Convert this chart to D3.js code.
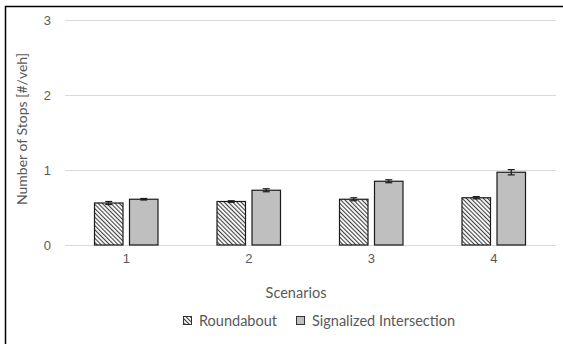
<!DOCTYPE html>
<html>
<head>
<meta charset="utf-8">
<script src="https://cdn.jsdelivr.net/npm/d3@7"></script>
<style>
  html, body { margin: 0; padding: 0; background: #fff; }
  svg { display: block; font-family: Lato, "Open Sans", sans-serif; }
</style>
</head>
<body>
<svg id="chart" width="563" height="344"></svg>
<script>
// Scenario categories and series (mean stops per vehicle with error half-widths)
const scenarios = ["1", "2", "3", "4"];
const seriesNames = ["Roundabout", "Signalized Intersection"];
const roundabout = [0.56, 0.58, 0.61, 0.63];
const roundaboutErr = [0.02, 0.01, 0.02, 0.015];
const signalized = [0.61, 0.73, 0.85, 0.97];
const signalizedErr = [0.01, 0.02, 0.02, 0.035];
const yTicks = [0, 1, 2, 3];

const svg = d3.select("#chart");
const margin = { left: 65 };
const W = 563, H = 344;

const defs = svg.append("defs");
const pat = defs.append("pattern")
  .attr("id", "hatch")
  .attr("patternUnits", "userSpaceOnUse")
  .attr("width", 3).attr("height", 3)
  .attr("patternTransform", "rotate(-45)");
pat.append("rect").attr("width", 3).attr("height", 3).attr("fill", "#fff");
pat.append("rect").attr("x", 0).attr("width", 1.1).attr("height", 3).attr("fill", "#404040");

// Outer frame (left and top edges)
svg.append("path")
  .attr("d", `M5.5,${H} V6.5 H${W}`)
  .attr("fill", "none").attr("stroke", "#000").attr("stroke-width", 1.5);

const x = d3.scaleBand().domain(scenarios).range([margin.left, 555]);
const y = d3.scaleLinear().domain([0, 3]).range([245, 20]);

// Gridlines
svg.append("g").selectAll("line").data(yTicks).join("line")
  .attr("x1", margin.left).attr("x2", 556)
  .attr("y1", d => Math.round(y(d)) + 0.5).attr("y2", d => Math.round(y(d)) + 0.5)
  .attr("stroke", "#d9d9d9").attr("stroke-width", 1);

// Y axis labels
const yAxis = d3.axisLeft(y).tickValues(yTicks).tickFormat(d3.format("d")).tickSize(0).tickPadding(14);
svg.append("g").attr("transform", `translate(${margin.left},0)`).call(yAxis)
  .call(g => g.select(".domain").remove())
  .call(g => g.selectAll("text").attr("fill", "#595959").attr("font-size", 13).attr("font-family", null));

// X axis labels
const xAxis = d3.axisBottom(x).tickSize(0).tickPadding(9);
svg.append("g").attr("transform", `translate(0,245)`).call(xAxis)
  .call(g => g.select(".domain").remove())
  .call(g => g.selectAll("text").attr("fill", "#595959").attr("font-size", 13).attr("font-family", null));

const barW = 28.5, gap = 6.5;
const groups = [
  { vals: roundabout, err: roundaboutErr, fill: "url(#hatch)", off: -gap / 2 - barW },
  { vals: signalized, err: signalizedErr, fill: "#bfbfbf", off: gap / 2 }
];

groups.forEach(s => {
  const cx = i => x(scenarios[i]) + x.bandwidth() / 2 + s.off;
  svg.append("g").selectAll("rect").data(s.vals).join("rect")
    .attr("x", (d, i) => cx(i))
    .attr("y", d => y(d))
    .attr("width", barW)
    .attr("height", d => y(0) - y(d))
    .attr("fill", s.fill)
    .attr("stroke", "#1a1a1a").attr("stroke-width", 1.2);

  const eb = svg.append("g").attr("stroke", "#1a1a1a").attr("stroke-width", 1.2);
  s.vals.forEach((d, i) => {
    const mx = cx(i) + barW / 2;
    const lo = y(d - s.err[i]), hi = y(d + s.err[i]);
    eb.append("line").attr("x1", mx).attr("x2", mx).attr("y1", lo).attr("y2", hi);
    eb.append("line").attr("x1", mx - 3.5).attr("x2", mx + 3.5).attr("y1", lo).attr("y2", lo);
    eb.append("line").attr("x1", mx - 3.5).attr("x2", mx + 3.5).attr("y1", hi).attr("y2", hi);
  });
});

// Axis titles
svg.append("text")
  .attr("transform", `translate(27,129) rotate(-90)`)
  .attr("text-anchor", "middle")
  .attr("fill", "#595959").attr("font-size", 14)
  .text("Number of Stops [#/veh]");

svg.append("text")
  .attr("x", 296).attr("y", 298)
  .attr("text-anchor", "middle")
  .attr("fill", "#595959").attr("font-size", 14.5)
  .text("Scenarios");

// Legend
const legend = [
  { name: seriesNames[0], fill: "url(#hatch)", x: 183 },
  { name: seriesNames[1], fill: "#bfbfbf", x: 296 }
];
const lg = svg.append("g");
legend.forEach(l => {
  lg.append("rect").attr("x", l.x + 0.5).attr("y", 316.5).attr("width", 8).attr("height", 8)
    .attr("fill", l.fill).attr("stroke", "#333").attr("stroke-width", 1);
  lg.append("text").attr("x", l.x + 16).attr("y", 326)
    .attr("fill", "#595959").attr("font-size", 14.5).text(l.name);
});
</script>
</body>
</html>
